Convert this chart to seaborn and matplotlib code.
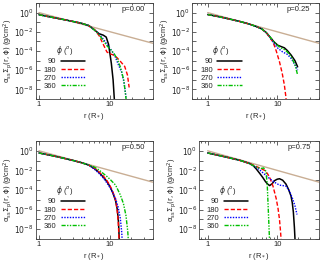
import numpy as np
import pandas as pd
import seaborn as sns
import matplotlib.pyplot as plt
from matplotlib.ticker import FixedLocator, FuncFormatter, NullLocator, LogLocator

sns.set_style("ticks")
plt.rcParams['font.family'] = ['Liberation Sans', 'DejaVu Sans']
plt.rcParams['mathtext.fontset'] = 'dejavusans'

# all surface densities are stored as log10 values
phis = ["90", "180", "270", "360"]
colors = ["black", "#ff0000", "#0000ff", "#00c000"]
styles = ["-", (0, (3, 1.5)), (0, (1, 1)), (0, (3, 1, 1, 1, 1, 1))]

# p = 0.00
r_in_0 = [1, 1.5, 2, 3, 4, 5]
lg_in_0 = [-0.22, -0.48, -0.66, -0.92, -1.12, -1.35]
r_0 = [[6, 7, 8, 8.8, 9.5, 10.4, 11, 11.4, 11.6],
       [6, 7, 8, 9, 10, 11, 12.5, 14, 16, 17.5, 18.5],
       [6, 7, 8, 9, 10, 11.5, 13, 14.5, 15.7, 16.5, 17],
       [6, 7, 8, 9, 10, 11.4, 12.5, 14, 15.5, 16.5, 17]]
lg_0 = [[-1.8, -2.2, -2.35, -2.55, -3.3, -5.3, -7.0, -8.8, -9.5],
        [-1.75, -2.4, -3.3, -4.1, -4.3, -4.4, -4.7, -5.1, -5.6, -6.5, -7.8],
        [-1.8, -2.25, -2.75, -3.3, -3.75, -4.4, -5.4, -6.2, -7.3, -8.5, -9.5],
        [-1.8, -2.3, -2.9, -3.45, -3.8, -4.3, -4.8, -5.7, -7.0, -8.6, -9.5]]

# p = 0.25
r_in_25 = [1, 1.5, 2, 3, 4, 5, 6]
lg_in_25 = [-0.2, -0.45, -0.65, -0.95, -1.2, -1.45, -1.7]
r_25 = [[7, 7.8, 9, 10.2, 11.5, 12.7, 14, 15.9, 18, 19.7],
        [7, 7.8, 8.7, 9.7, 10.8, 11.8, 12.7, 13.3, 13.6],
        [7, 7.8, 9, 10.2, 12, 14, 16, 18.7, 19.7],
        [7, 7.8, 9, 10.2, 11.5, 12.7, 14, 15.9, 18, 19.7]]
lg_25 = [[-2.1, -2.5, -3.05, -3.4, -3.55, -3.67, -3.95, -4.43, -5.0, -5.65],
         [-2.1, -2.6, -3.05, -4.0, -5.13, -6.3, -7.55, -8.7, -9.5],
         [-2.1, -2.55, -3.2, -3.7, -4.1, -4.35, -4.8, -5.65, -6.0],
         [-2.1, -2.5, -3.05, -3.45, -3.7, -3.85, -4.1, -4.6, -5.4, -6.5]]

# p = 0.50
r_in_50 = [1, 1.5, 2, 3, 4, 5]
lg_in_50 = [-0.22, -0.48, -0.68, -0.98, -1.22, -1.45]
r_50 = [[6, 7, 8, 9, 10, 11, 12, 12.7, 13.2, 13.6],
        [6, 7, 8, 9, 10, 11, 12, 12.6, 13.1, 13.5],
        [6, 7, 8, 9, 10, 11, 12, 13, 14, 14.6, 15],
        [6, 7, 8, 9, 10, 12, 14, 15.5, 16.8, 17.8, 18.3]]
lg_50 = [[-1.8, -2.2, -2.65, -3.1, -3.65, -4.3, -5.1, -6.0, -7.3, -9.5],
         [-1.75, -2.15, -2.55, -3.0, -3.55, -4.2, -5.0, -6.0, -7.3, -9.5],
         [-1.85, -2.3, -2.75, -3.25, -3.75, -4.3, -4.9, -5.7, -6.9, -8.2, -9.5],
         [-1.65, -1.95, -2.3, -2.6, -2.9, -3.5, -4.5, -5.4, -6.6, -8.2, -9.5]]

# p = 0.75
r_in_75 = [1, 1.5, 2, 3, 4]
lg_in_75 = [-0.22, -0.5, -0.7, -1.0, -1.3]
r_75 = [[4.5, 5, 5.6, 6.2, 6.8, 7.3, 7.8, 8.5, 9.1, 10, 10.8, 12, 13.4, 14.6, 15.8, 16.5, 17.1, 17.7, 18.2],
        [4.5, 5, 5.6, 6.6, 7.2, 7.8, 8.7, 9.7, 10.3, 10.8, 11.2, 11.5],
        [4.5, 5, 5.6, 6.6, 8, 9.1, 10.8, 12, 13.4, 15, 16.7, 18, 19.3],
        [4.5, 5, 5.5, 5.9, 6.4, 6.9, 7.2, 7.4, 7.6, 7.8]]
lg_75 = [[-1.5, -1.85, -2.3, -2.72, -3.15, -3.4, -3.55, -3.35, -3.06, -2.9, -2.85, -3.0, -3.4, -3.95, -4.6, -5.3, -6.25, -7.8, -9.5],
         [-1.45, -1.6, -1.75, -2.0, -2.3, -2.7, -3.6, -4.9, -5.9, -7.0, -8.3, -9.5],
         [-1.5, -1.7, -1.95, -2.4, -2.9, -3.2, -3.5, -3.55, -3.6, -4.1, -4.9, -5.6, -6.5],
         [-1.5, -1.65, -1.75, -1.8, -1.75, -2.1, -3.5, -5.5, -7.5, -9.5]]

# reference power law (tan line)
r_ref = [1, 40]
lg_ref = [0.0, -3.2]

p_labels = ["p=0.00", "p=0.25", "p=0.50", "p=0.75"]
panels = [(r_in_0, lg_in_0, r_0, lg_0), (r_in_25, lg_in_25, r_25, lg_25),
          (r_in_50, lg_in_50, r_50, lg_50), (r_in_75, lg_in_75, r_75, lg_75)]

# axes boxes in pixels: left, right, top, bottom, xlim low, ylabel x (px)
W, H = 335, 268
boxes = [(35.7, 153, 3, 99, 0.9, 15), (192.3, 319, 3, 99, 0.6, 172.5),
         (35.7, 152.7, 141, 239, 0.9, 15), (199, 319, 141, 239, 0.75, 179)]

fig = plt.figure(figsize=(W / 100, H / 100), dpi=100)
fs = 5.5

for k in range(4):
    l, r, t, b, xlo, ylx = boxes[k]
    ax = fig.add_axes([l / W, 1 - b / H, (r - l) / W, (b - t) / H])
    ax.set_xscale('log')
    ax.set_yscale('log')

    sns.lineplot(x=r_ref, y=10.0 ** np.array(lg_ref), ax=ax, color='#c9ae94', lw=1.0,
                 estimator=None, sort=False)
    r_in, lg_in, rr, lgs = panels[k]
    for i in range(4):
        x = np.array(r_in + rr[i])
        y = 10.0 ** np.array(lg_in + lgs[i])
        sns.lineplot(x=x, y=y, ax=ax, color=colors[i], linestyle=styles[i],
                     lw=1.1 if i == 0 else 1.0, label=phis[i], estimator=None, sort=False)

    ax.set_xlim(xlo, 40)
    ax.set_ylim(1e-9, 10)
    ax.set_yticks([10.0 ** e for e in range(-9, 2)])
    ax.yaxis.set_major_formatter(FuncFormatter(
        lambda v, pos: r'$10^{%d}$' % round(np.log10(v)) if round(np.log10(v)) % 2 == 0 and round(np.log10(v)) <= 0 else ''))
    ax.yaxis.set_minor_locator(NullLocator())
    ax.set_xticks([1, 10])
    ax.set_xticklabels(['1', '10'])
    ax.xaxis.set_minor_locator(LogLocator(base=10, subs=np.arange(2, 10), numticks=20))
    ax.tick_params(which='both', direction='in', top=True, right=True, labelsize=fs,
                   width=0.5, pad=1.5)
    ax.tick_params(which='major', length=3)
    ax.tick_params(which='minor', length=1.5)
    for s in ax.spines.values():
        s.set_linewidth(0.6)
        s.set_color('#444444')

    ax.set_xlabel(r'r (R$_*$)', fontsize=fs, labelpad=2)
    ax.set_ylabel(r'$\mathrm{\alpha_{ss}\Sigma_p(r,\phi)}$ (g/cm$^2$)', fontsize=5.3)
    ax.yaxis.set_label_coords((ylx - l) / (r - l), 0.5)
    ax.text(0.93, 0.93, p_labels[k], transform=ax.transAxes, ha='right', va='center', fontsize=fs)

    leg = ax.legend(loc='lower left', bbox_to_anchor=(0.02, 0.04), frameon=False,
                    markerfirst=False, fontsize=fs, title=r'$\phi$ ($^o$)', title_fontsize=fs,
                    handlelength=3.2, handletextpad=0.6, labelspacing=0.1, borderpad=0.2)

fig.savefig('out.png', dpi=100)
